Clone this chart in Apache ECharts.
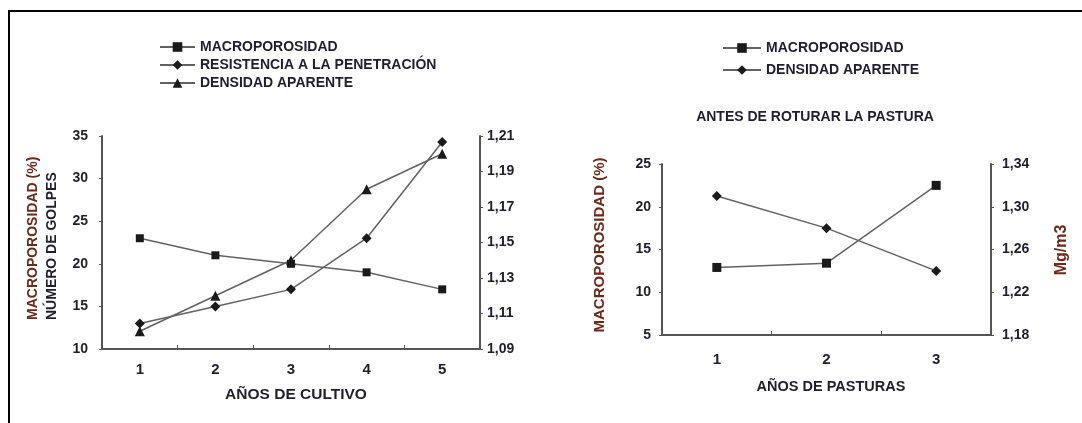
<!DOCTYPE html>
<html>
<head>
<meta charset="utf-8">
<script src="https://cdn.jsdelivr.net/npm/echarts@6/dist/echarts.min.js"></script>
<style>
html, body { margin: 0; padding: 0; background: #fff; }
#chart { width: 1082px; height: 423px; }
</style>
</head>
<body>
<div id="chart"></div>
<script>
// left panel: years of cultivation
const cultivoYears = ['1', '2', '3', '4', '5'];
const macroCultivo = [23, 21, 20, 19, 17];
const golpesCultivo = [13, 15, 17, 23, 34.3];
const densidadCultivo = [1.10, 1.12, 1.14, 1.18, 1.20];
// right panel: years of pasture
const pasturaYears = ['1', '2', '3'];
const macroPastura = [12.9, 13.4, 22.5];
const densidadPastura = [1.31, 1.28, 1.24];

const txt = '#1e1e30';
const brown = '#6b2a1a';
const axisCol = '#555';
const lineCol = '#626262';
const markCol = '#1a1a1a';
const font = 'Liberation Sans, Arial, sans-serif';

function comma(v) { return v.toFixed(2).replace('.', ','); }

function valAxis(grid, min, max, interval, pos, margin, fmt) {
    return {
        type: 'value', gridIndex: grid, position: pos,
        min: min, max: max, interval: interval,
        axisLine: { show: true, lineStyle: { color: axisCol, width: 2 } },
        axisTick: { show: true, length: 3, lineStyle: { color: axisCol } },
        splitLine: { show: false },
        axisLabel: { color: txt, fontSize: 14, fontWeight: 'bold', fontFamily: font, margin: margin, formatter: fmt }
    };
}
function catAxis(grid, data, margin) {
    return {
        type: 'category', gridIndex: grid, data: data, boundaryGap: true,
        axisLine: { lineStyle: { color: axisCol, width: 2 } },
        axisTick: { show: true, inside: true, length: 4, lineStyle: { color: axisCol } },
        axisLabel: { color: txt, fontSize: 15, fontWeight: 'bold', fontFamily: font, margin: margin }
    };
}
function line(name, data, x, y, symbol, size) {
    return {
        name: name, type: 'line', xAxisIndex: x, yAxisIndex: y, data: data,
        symbol: symbol, symbolSize: size,
        lineStyle: { color: lineCol, width: 1.5 },
        itemStyle: { color: markCol },
        animation: false
    };
}
function label(text, x, y, size) {
    return {
        type: 'text', x: x, y: y,
        style: { text: text, fill: txt, font: 'bold ' + (size || 14) + 'px ' + font, textAlign: 'center', textVerticalAlign: 'middle' }
    };
}
function vlabel(text, x, y, size, color, align) {
    return {
        type: 'text', x: x, y: y, rotation: Math.PI / 2,
        style: { text: text, fill: color, font: 'bold ' + size + 'px ' + font, textAlign: align, textVerticalAlign: 'middle' }
    };
}

const chart = echarts.init(document.getElementById('chart'));
chart.setOption({
    backgroundColor: '#fff',
    grid: [
        { left: 102, top: 136, width: 378, height: 213 },
        { left: 662, top: 164, width: 329, height: 171 }
    ],
    legend: [
        {
            orient: 'vertical', left: 154, top: 35, itemWidth: 35, itemHeight: 12, itemGap: 4,
            data: ['MACROPOROSIDAD', 'RESISTENCIA A LA PENETRACIÓN', 'DENSIDAD APARENTE'],
            textStyle: { color: txt, fontSize: 14, fontWeight: 'bold', fontFamily: font }
        },
        {
            orient: 'vertical', left: 717, top: 36, itemWidth: 38, itemHeight: 12, itemGap: 8,
            data: ['MACROPOROSIDAD ', 'DENSIDAD APARENTE '],
            textStyle: { color: txt, fontSize: 14, fontWeight: 'bold', fontFamily: font }
        }
    ],
    xAxis: [catAxis(0, cultivoYears, 13), catAxis(1, pasturaYears, 17)],
    yAxis: [
        valAxis(0, 10, 35, 5, 'left', 14),
        valAxis(0, 1.09, 1.21, 0.02, 'right', 7, comma),
        valAxis(1, 5, 25, 5, 'left', 11),
        valAxis(1, 1.18, 1.34, 0.04, 'right', 11, comma)
    ],
    series: [
        line('MACROPOROSIDAD', macroCultivo, 0, 0, 'rect', 8),
        line('RESISTENCIA A LA PENETRACIÓN', golpesCultivo, 0, 0, 'diamond', 10),
        line('DENSIDAD APARENTE', densidadCultivo, 0, 1, 'triangle', 10),
        line('MACROPOROSIDAD ', macroPastura, 1, 2, 'rect', 9),
        line('DENSIDAD APARENTE ', densidadPastura, 1, 3, 'diamond', 10)
    ],
    graphic: [
        { type: 'polyline', shape: { points: [[1082, 11], [9, 11], [9, 423]] }, style: { stroke: '#000', lineWidth: 2, fill: null } },
        vlabel('MACROPOROSIDAD (%)', 33, 320, 14, brown, 'left'),
        vlabel('NÚMERO DE GOLPES', 52, 320, 14, txt, 'left'),
        label('AÑOS DE CULTIVO', 296, 395, 15.5),
        label('ANTES DE ROTURAR LA PASTURA', 815, 117, 14),
        vlabel('MACROPOROSIDAD (%)', 600, 245, 15, brown, 'center'),
        vlabel('Mg/m3', 1062, 250, 16, brown, 'center'),
        label('AÑOS DE PASTURAS', 831, 387, 14.5)
    ]
});
</script>
</body>
</html>
